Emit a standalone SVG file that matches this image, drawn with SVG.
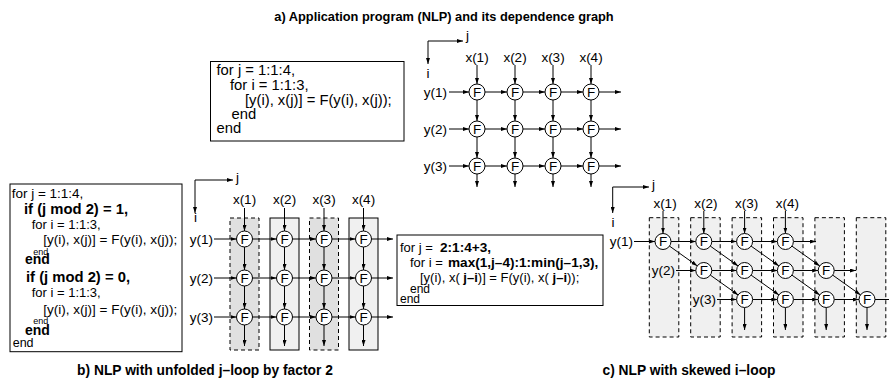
<svg xmlns="http://www.w3.org/2000/svg" width="889" height="380" viewBox="0 0 889 380">
<defs>
<style>
text{font-family:"Liberation Sans",Arial,Helvetica,sans-serif;fill:#000}
.t{font-size:13.5px}
.c{font-size:14.8px}
.cb{font-size:14.8px;font-weight:bold}
.tt{font-size:12.8px;font-weight:bold;text-anchor:middle}
.cap{font-size:13.8px;font-weight:bold;text-anchor:middle}
.m{text-anchor:middle}
.e{text-anchor:end}
.box{fill:#fff;stroke:#000;stroke-width:1}
.nd circle{fill:#fff;stroke:#000;stroke-width:1}
.nd text{font-size:13.5px;text-anchor:middle}
#connectors line{stroke:#000;stroke-width:1;marker-end:url(#ah)}
#connectors line.na{marker-end:none}
.sd{fill:#e0e0e0;stroke:#000;stroke-width:1;stroke-dasharray:4,3}
.ss{fill:#f0f0f0;stroke:#000;stroke-width:1}
.sc{fill:#f0f0f0;stroke:#000;stroke-width:1;stroke-dasharray:4,3}
</style>
<marker id="ah" viewBox="0 0 6 4" refX="6" refY="2" markerWidth="6" markerHeight="4" markerUnits="userSpaceOnUse" orient="auto"><path d="M0,0 L6,2 L0,4 z" fill="#000"/></marker>
</defs>

<text class="tt" x="444" y="21">a) Application program (NLP) and its dependence graph</text>
<text class="cap" x="205" y="375">b) NLP with unfolded j–loop by factor 2</text>
<text class="cap" x="689" y="375">c) NLP with skewed i–loop</text>

<g id="code-a">
<rect class="box" x="210.5" y="61.5" width="193.5" height="79.5"/>
<text class="c" x="216.5" y="74.5">for j = 1:1:4,</text>
<text class="c" x="230" y="89.5">for i = 1:1:3,</text>
<text class="c" x="245" y="104.5">[y(i), x(j)] = F(y(i), x(j));</text>
<text class="c" x="231.5" y="119">end</text>
<text class="c" x="216.5" y="132.5">end</text>
</g>

<g id="code-b">
<rect class="box" x="10" y="184" width="172" height="167.7"/>
<text class="t" x="11.7" y="197.5">for j = 1:1:4,</text>
<text class="cb" x="24" y="214">if (j mod 2) = 1,</text>
<text class="t" x="31.7" y="228.5" style="font-size:13px">for i = 1:1:3,</text>
<text class="t" x="43.3" y="244">[y(i), x(j)] = F(y(i), x(j));</text>
<text class="t" x="33.3" y="254.5" style="font-size:9px">end</text>
<text class="cb" x="25" y="263.5" style="font-size:14px">end</text>
<text class="cb" x="26" y="281.5">if (j mod 2) = 0,</text>
<text class="t" x="31.7" y="297" style="font-size:13px">for i = 1:1:3,</text>
<text class="t" x="43.3" y="313.5">[y(i), x(j)] = F(y(i), x(j));</text>
<text class="t" x="33.3" y="324" style="font-size:9px">end</text>
<text class="cb" x="25" y="334.5" style="font-size:14px">end</text>
<text class="t" x="12.7" y="346.5" style="font-size:12.5px">end</text>
</g>

<g id="code-c">
<rect class="box" x="397" y="235" width="206" height="70.5"/>
<text class="t" x="400" y="251.5" style="font-size:13px">for j = <tspan font-weight="bold" font-size="13.6px" x="440">2:1:4+3,</tspan></text>
<text class="t" x="410" y="266.5" style="font-size:13px">for i = <tspan font-weight="bold" font-size="13.6px" x="448">max(1,j–4):1:min(j–1,3),</tspan></text>
<text class="t" x="420" y="281.5" style="font-size:13px">[y(i), x( <tspan font-weight="bold">j–i</tspan>)] = F(y(i), x( <tspan font-weight="bold">j–i</tspan>));</text>
<text class="t" x="410" y="293" style="font-size:12px">end</text>
<text class="t" x="400" y="302.5" style="font-size:12px">end</text>
</g>

<g id="cols-b">
<rect class="sd" x="230" y="218" width="29" height="132"/>
<rect class="ss" x="270" y="218" width="29" height="132"/>
<rect class="sd" x="309.5" y="218" width="29" height="132"/>
<rect class="ss" x="349" y="218" width="29" height="132"/>
</g>

<g id="cols-c">
<rect class="sc" x="649.3" y="217.7" width="29.5" height="119.3"/>
<rect class="sc" x="690.7" y="217.7" width="29.5" height="119.3"/>
<rect class="sc" x="732.1" y="217.7" width="29.5" height="119.3"/>
<rect class="sc" x="773.5" y="217.7" width="29.5" height="119.3"/>
<rect class="sc" x="814.9" y="217.7" width="29.5" height="119.3"/>
<rect class="sc" x="856.3" y="217.7" width="29.5" height="119.3"/>
</g>

<g id="labels" class="t">
<text x="466" y="39.5">j</text><text class="m" x="428" y="78">i</text>
<text class="m" x="477" y="61.5">x(1)</text><text class="m" x="515" y="61.5">x(2)</text><text class="m" x="553" y="61.5">x(3)</text><text class="m" x="591" y="61.5">x(4)</text>
<text class="e" x="447" y="96.7">y(1)</text><text class="e" x="447" y="133.7">y(2)</text><text class="e" x="447" y="170.7">y(3)</text>
<text x="236" y="182">j</text><text class="m" x="195.5" y="222">i</text>
<text class="m" x="244.5" y="204">x(1)</text><text class="m" x="284.5" y="204">x(2)</text><text class="m" x="324" y="204">x(3)</text><text class="m" x="363.5" y="204">x(4)</text>
<text class="e" x="213" y="243.7">y(1)</text><text class="e" x="213" y="282.7">y(2)</text><text class="e" x="213" y="321.7">y(3)</text>
<text x="652" y="189">j</text><text class="m" x="613" y="226.5">i</text>
<text class="m" x="665" y="208">x(1)</text><text class="m" x="705.8" y="208">x(2)</text><text class="m" x="746.6" y="208">x(3)</text><text class="m" x="787.4" y="208">x(4)</text>
<text class="e" x="633" y="246.2">y(1)</text><text class="e" x="675" y="275.2">y(2)</text><text class="e" x="716" y="304.2">y(3)</text>
</g>

<g id="connectors">
<line x1="428" y1="41" x2="463" y2="41"/><line x1="428" y1="41" x2="428" y2="64"/>
<line x1="477" y1="65" x2="477" y2="84"/><line x1="515" y1="65" x2="515" y2="84"/><line x1="553" y1="65" x2="553" y2="84"/><line x1="591" y1="65" x2="591" y2="84"/>
<line x1="477" y1="100" x2="477" y2="121"/><line x1="515" y1="100" x2="515" y2="121"/><line x1="553" y1="100" x2="553" y2="121"/><line x1="591" y1="100" x2="591" y2="121"/>
<line x1="477" y1="137" x2="477" y2="158"/><line x1="515" y1="137" x2="515" y2="158"/><line x1="553" y1="137" x2="553" y2="158"/><line x1="591" y1="137" x2="591" y2="158"/>
<line x1="477" y1="174" x2="477" y2="187"/><line x1="515" y1="174" x2="515" y2="187"/><line x1="553" y1="174" x2="553" y2="187"/><line x1="591" y1="174" x2="591" y2="187"/>
<line x1="449" y1="92" x2="469" y2="92"/><line x1="485" y1="92" x2="507" y2="92"/><line x1="523" y1="92" x2="545" y2="92"/><line x1="561" y1="92" x2="583" y2="92"/><line x1="599" y1="92" x2="621" y2="92"/>
<line x1="449" y1="129" x2="469" y2="129"/><line x1="485" y1="129" x2="507" y2="129"/><line x1="523" y1="129" x2="545" y2="129"/><line x1="561" y1="129" x2="583" y2="129"/><line x1="599" y1="129" x2="621" y2="129"/>
<line x1="449" y1="166" x2="469" y2="166"/><line x1="485" y1="166" x2="507" y2="166"/><line x1="523" y1="166" x2="545" y2="166"/><line x1="561" y1="166" x2="583" y2="166"/><line x1="599" y1="166" x2="621" y2="166"/>
<line x1="195" y1="180" x2="233" y2="180"/><line x1="195" y1="180" x2="195" y2="213"/>
<line x1="244.5" y1="208" x2="244.5" y2="231"/><line x1="284.5" y1="208" x2="284.5" y2="231"/><line x1="324" y1="208" x2="324" y2="231"/><line x1="363.5" y1="208" x2="363.5" y2="231"/>
<line x1="244.5" y1="247" x2="244.5" y2="270"/><line x1="284.5" y1="247" x2="284.5" y2="270"/><line x1="324" y1="247" x2="324" y2="270"/><line x1="363.5" y1="247" x2="363.5" y2="270"/>
<line x1="244.5" y1="286" x2="244.5" y2="309"/><line x1="284.5" y1="286" x2="284.5" y2="309"/><line x1="324" y1="286" x2="324" y2="309"/><line x1="363.5" y1="286" x2="363.5" y2="309"/>
<line x1="244.5" y1="325" x2="244.5" y2="346"/><line x1="284.5" y1="325" x2="284.5" y2="346"/><line x1="324" y1="325" x2="324" y2="346"/><line x1="363.5" y1="325" x2="363.5" y2="346"/>
<line x1="214" y1="239" x2="236.5" y2="239"/><line x1="252.5" y1="239" x2="276.5" y2="239"/><line x1="292.5" y1="239" x2="316" y2="239"/><line x1="332" y1="239" x2="355.5" y2="239"/><line x1="371.5" y1="239" x2="393" y2="239"/>
<line x1="214" y1="278" x2="236.5" y2="278"/><line x1="252.5" y1="278" x2="276.5" y2="278"/><line x1="292.5" y1="278" x2="316" y2="278"/><line x1="332" y1="278" x2="355.5" y2="278"/><line x1="371.5" y1="278" x2="393" y2="278"/>
<line x1="214" y1="317" x2="236.5" y2="317"/><line x1="252.5" y1="317" x2="276.5" y2="317"/><line x1="292.5" y1="317" x2="316" y2="317"/><line x1="332" y1="317" x2="355.5" y2="317"/><line x1="371.5" y1="317" x2="393" y2="317"/>
<line x1="612.7" y1="187" x2="649" y2="187"/><line x1="612.7" y1="187" x2="612.7" y2="213"/>
<line x1="663" y1="211" x2="663" y2="233.5"/><line x1="703.8" y1="211" x2="703.8" y2="233.5"/><line x1="744.6" y1="211" x2="744.6" y2="233.5"/><line x1="785.4" y1="211" x2="785.4" y2="233.5"/>
<line x1="634" y1="241.5" x2="655" y2="241.5"/><line x1="671" y1="241.5" x2="695.8" y2="241.5"/><line x1="711.8" y1="241.5" x2="736.6" y2="241.5"/><line x1="752.6" y1="241.5" x2="777.4" y2="241.5"/><line x1="793.4" y1="241.5" x2="816" y2="241.5"/>
<line x1="676" y1="270.5" x2="695.8" y2="270.5"/><line x1="711.8" y1="270.5" x2="736.6" y2="270.5"/><line x1="752.6" y1="270.5" x2="777.4" y2="270.5"/><line x1="793.4" y1="270.5" x2="818.2" y2="270.5"/><line x1="834.2" y1="270.5" x2="856" y2="270.5"/>
<line x1="717" y1="299.5" x2="736.6" y2="299.5"/><line x1="752.6" y1="299.5" x2="777.4" y2="299.5"/><line x1="793.4" y1="299.5" x2="818.2" y2="299.5"/><line x1="834.2" y1="299.5" x2="859" y2="299.5"/><line class="na" x1="875" y1="299.5" x2="892" y2="299.5"/>
<line x1="669.5" y1="246.1" x2="697.3" y2="265.9"/><line x1="710.3" y1="246.1" x2="738.1" y2="265.9"/><line x1="751.1" y1="246.1" x2="778.9" y2="265.9"/><line x1="791.9" y1="246.1" x2="819.7" y2="265.9"/>
<line x1="710.3" y1="275.1" x2="738.1" y2="294.9"/><line x1="751.1" y1="275.1" x2="778.9" y2="294.9"/><line x1="791.9" y1="275.1" x2="819.7" y2="294.9"/><line x1="832.7" y1="275.1" x2="860.5" y2="294.9"/>
<line x1="744.6" y1="307.5" x2="744.6" y2="330"/><line x1="785.4" y1="307.5" x2="785.4" y2="330"/><line x1="826.2" y1="307.5" x2="826.2" y2="330"/><line x1="867" y1="307.5" x2="867" y2="330"/>
</g>

<g id="a11" class="nd"><circle cx="477" cy="92" r="8"/><text x="477" y="96.7">F</text></g>
<g id="a12" class="nd"><circle cx="515" cy="92" r="8"/><text x="515" y="96.7">F</text></g>
<g id="a13" class="nd"><circle cx="553" cy="92" r="8"/><text x="553" y="96.7">F</text></g>
<g id="a14" class="nd"><circle cx="591" cy="92" r="8"/><text x="591" y="96.7">F</text></g>
<g id="a21" class="nd"><circle cx="477" cy="129" r="8"/><text x="477" y="133.7">F</text></g>
<g id="a22" class="nd"><circle cx="515" cy="129" r="8"/><text x="515" y="133.7">F</text></g>
<g id="a23" class="nd"><circle cx="553" cy="129" r="8"/><text x="553" y="133.7">F</text></g>
<g id="a24" class="nd"><circle cx="591" cy="129" r="8"/><text x="591" y="133.7">F</text></g>
<g id="a31" class="nd"><circle cx="477" cy="166" r="8"/><text x="477" y="170.7">F</text></g>
<g id="a32" class="nd"><circle cx="515" cy="166" r="8"/><text x="515" y="170.7">F</text></g>
<g id="a33" class="nd"><circle cx="553" cy="166" r="8"/><text x="553" y="170.7">F</text></g>
<g id="a34" class="nd"><circle cx="591" cy="166" r="8"/><text x="591" y="170.7">F</text></g>

<g id="b11" class="nd"><circle cx="244.5" cy="239" r="8"/><text x="244.5" y="243.7">F</text></g>
<g id="b12" class="nd"><circle cx="284.5" cy="239" r="8"/><text x="284.5" y="243.7">F</text></g>
<g id="b13" class="nd"><circle cx="324" cy="239" r="8"/><text x="324" y="243.7">F</text></g>
<g id="b14" class="nd"><circle cx="363.5" cy="239" r="8"/><text x="363.5" y="243.7">F</text></g>
<g id="b21" class="nd"><circle cx="244.5" cy="278" r="8"/><text x="244.5" y="282.7">F</text></g>
<g id="b22" class="nd"><circle cx="284.5" cy="278" r="8"/><text x="284.5" y="282.7">F</text></g>
<g id="b23" class="nd"><circle cx="324" cy="278" r="8"/><text x="324" y="282.7">F</text></g>
<g id="b24" class="nd"><circle cx="363.5" cy="278" r="8"/><text x="363.5" y="282.7">F</text></g>
<g id="b31" class="nd"><circle cx="244.5" cy="317" r="8"/><text x="244.5" y="321.7">F</text></g>
<g id="b32" class="nd"><circle cx="284.5" cy="317" r="8"/><text x="284.5" y="321.7">F</text></g>
<g id="b33" class="nd"><circle cx="324" cy="317" r="8"/><text x="324" y="321.7">F</text></g>
<g id="b34" class="nd"><circle cx="363.5" cy="317" r="8"/><text x="363.5" y="321.7">F</text></g>

<g id="c11" class="nd"><circle cx="663" cy="241.5" r="8"/><text x="663" y="246.2">F</text></g>
<g id="c12" class="nd"><circle cx="703.8" cy="241.5" r="8"/><text x="703.8" y="246.2">F</text></g>
<g id="c13" class="nd"><circle cx="744.6" cy="241.5" r="8"/><text x="744.6" y="246.2">F</text></g>
<g id="c14" class="nd"><circle cx="785.4" cy="241.5" r="8"/><text x="785.4" y="246.2">F</text></g>
<g id="c22" class="nd"><circle cx="703.8" cy="270.5" r="8"/><text x="703.8" y="275.2">F</text></g>
<g id="c23" class="nd"><circle cx="744.6" cy="270.5" r="8"/><text x="744.6" y="275.2">F</text></g>
<g id="c24" class="nd"><circle cx="785.4" cy="270.5" r="8"/><text x="785.4" y="275.2">F</text></g>
<g id="c25" class="nd"><circle cx="826.2" cy="270.5" r="8"/><text x="826.2" y="275.2">F</text></g>
<g id="c33" class="nd"><circle cx="744.6" cy="299.5" r="8"/><text x="744.6" y="304.2">F</text></g>
<g id="c34" class="nd"><circle cx="785.4" cy="299.5" r="8"/><text x="785.4" y="304.2">F</text></g>
<g id="c35" class="nd"><circle cx="826.2" cy="299.5" r="8"/><text x="826.2" y="304.2">F</text></g>
<g id="c36" class="nd"><circle cx="867" cy="299.5" r="8"/><text x="867" y="304.2">F</text></g>
</svg>
